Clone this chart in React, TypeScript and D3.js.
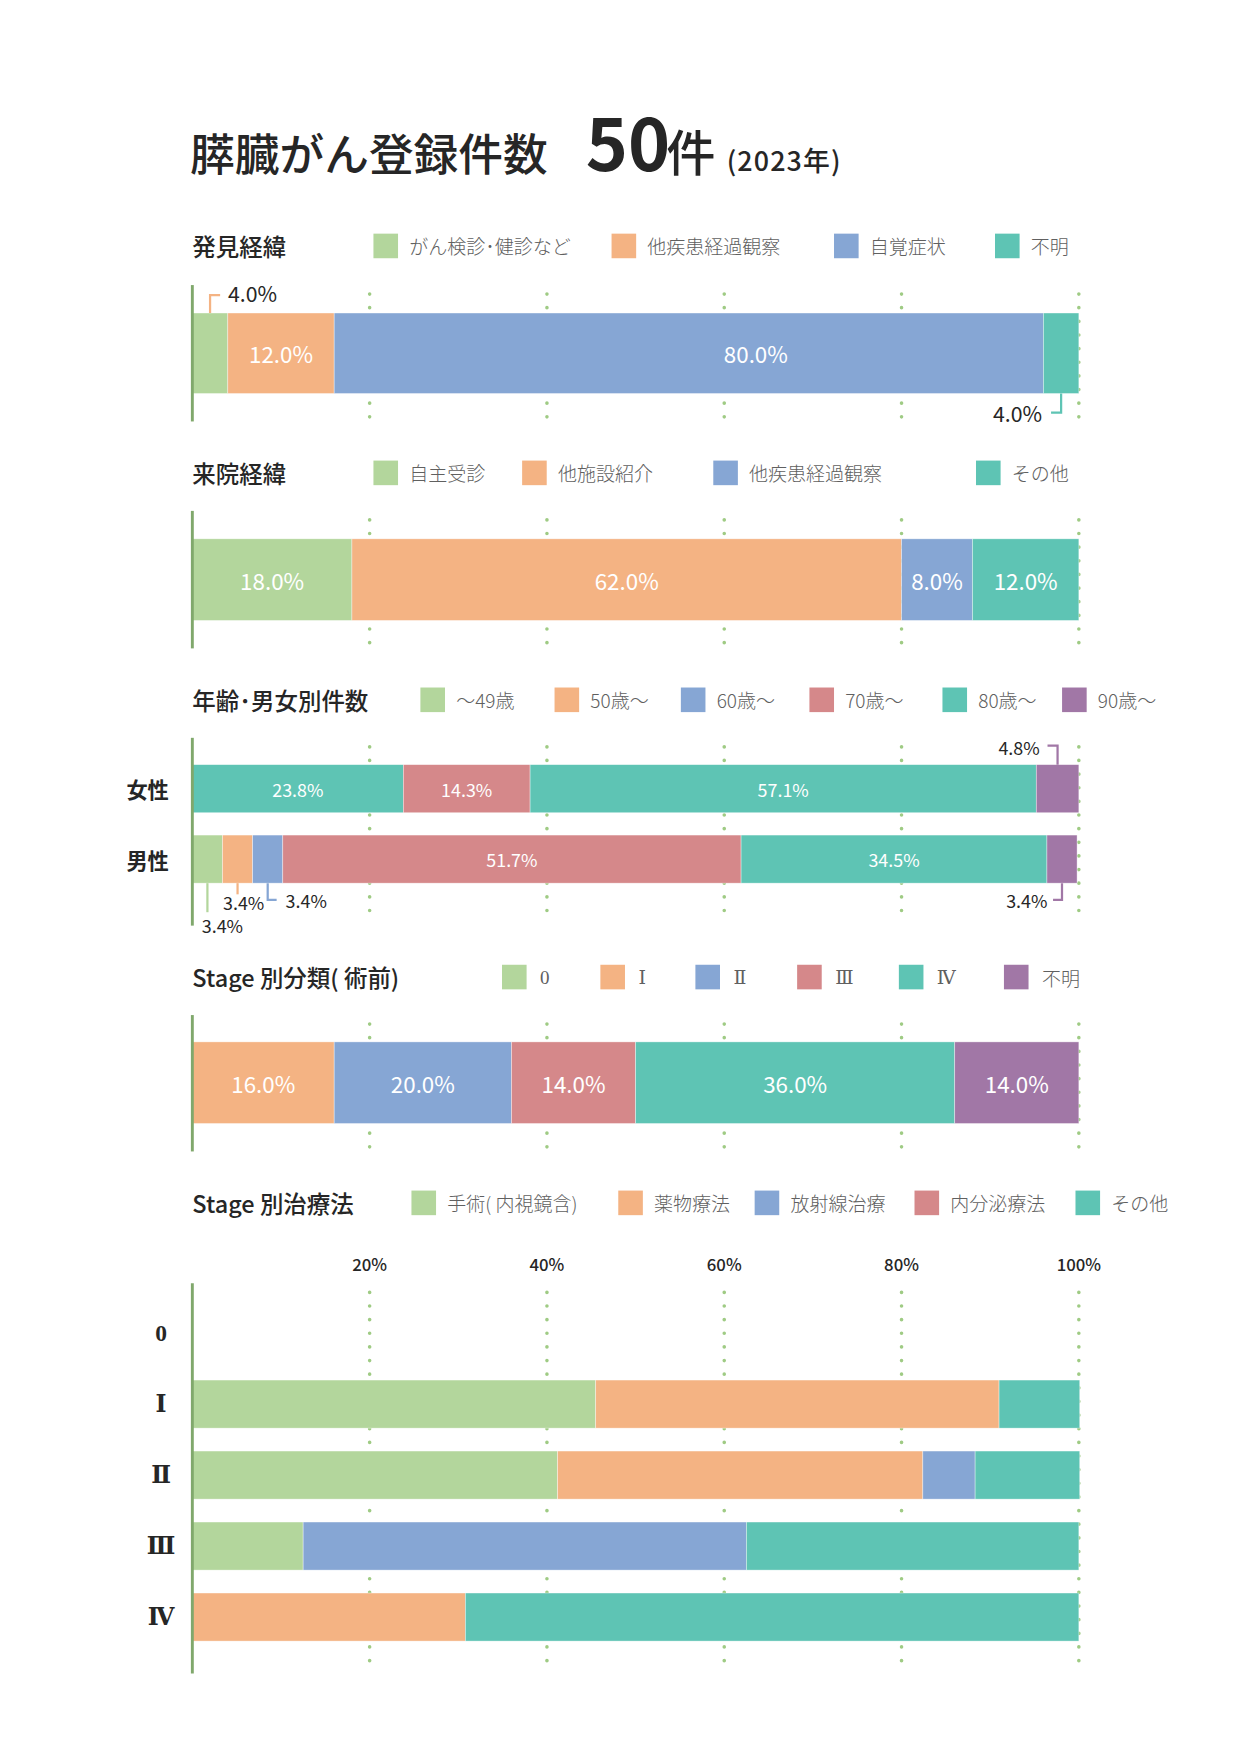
import * as d3 from 'd3'

// the reference is drawn in a 1110-wide frame and scaled up to the 1241px page
const VIEW_W = 1110
const VIEW_H = 1569
const X0 = 172
const X1 = 965

const FONT = "'Noto Sans CJK JP', 'Noto Sans', sans-serif"
const SERIF = "'Liberation Serif', 'DejaVu Serif', serif"

const PALETTE = ['#b3d69c', '#f4b383', '#86a6d4', '#d5888a', '#5ec4b4', '#a177a6']
const AXIS_COLOR = '#80a86c'
const GRID_COLOR = '#9fcb84'
const TEXT_DARK = '#262626'
const TEXT_LEGEND = '#606060'

// 発見経緯
const discoveryKeys = ['がん検診･健診など', '他疾患経過観察', '自覚症状', '不明']
const discoveryValues = [4.0, 12.0, 80.0, 4.0]

// 来院経緯
const visitKeys = ['自主受診', '他施設紹介', '他疾患経過観察', 'その他']
const visitValues = [18.0, 62.0, 8.0, 12.0]

// 年齢・男女別件数
const ageKeys = ['～49歳', '50歳～', '60歳～', '70歳～', '80歳～', '90歳～']
const sexLabels = ['女性', '男性']
const femaleValues = [0, 0, 23.8, 14.3, 57.1, 4.8]
const maleValues = [3.4, 3.4, 3.4, 51.7, 34.5, 3.4]

// Stage 別分類(術前)
const stageKeys = ['0', 'Ⅰ', 'Ⅱ', 'Ⅲ', 'Ⅳ', '不明']
const stageValues = [0, 16.0, 20.0, 14.0, 36.0, 14.0]

// Stage 別治療法
const treatmentKeys = ['手術( 内視鏡含)', '薬物療法', '放射線治療', '内分泌療法', 'その他']
const treatmentStages = ['0', 'Ⅰ', 'Ⅱ', 'Ⅲ', 'Ⅳ']
const surgeryValues = [0, 45.5, 41.2, 12.5, 0]
const drugValues = [0, 45.5, 41.2, 0, 30.8]
const radiationValues = [0, 0, 5.9, 50.0, 0]
const endocrineValues = [0, 0, 0, 0, 0]
const otherValues = [0, 9.1, 11.8, 37.5, 69.2]
const treatmentTicks = [20, 40, 60, 80, 100]

const x = d3.scaleLinear([0, 100], [X0, X1])
const pct = (v: number) => d3.format('.1f')(v) + '%'
const isRoman = (s: string) => /^[0Ⅰ-Ⅳ]$/.test(s)

interface Row {
  label?: string
  values: number[]
  colors: string[]
}
interface Note {
  row: number
  seg: number
  up: boolean
  len: number
  hook: number
  dx: number
  dy: number
  anchor: 'start' | 'end' | 'middle'
  color?: string
}
interface Panel {
  title: string
  titleY: number
  keys: string[]
  keyColors: string[]
  legendX: number[]
  legendGap: number
  axisTop: number
  axisBottom: number
  rowY: number[]
  rowH: number
  rows: Row[]
  rowLabelX?: number
  rowLabelSerif?: boolean
  labelSize: number
  labelShift?: Record<string, number>
  minInside: number
  noteSize: number
  notes: Note[]
}

const four = [PALETTE[0], PALETTE[1], PALETTE[2], PALETTE[4]]
// the reference paints the women's 60s segment in the 80s teal
const femaleColors = PALETTE.map((c, i) => (i === 2 ? PALETTE[4] : c))

const panels: Panel[] = [
  {
    title: '発見経緯',
    titleY: 220,
    keys: discoveryKeys,
    keyColors: four,
    legendX: [334, 547, 746, 890],
    legendGap: 32,
    axisTop: 255,
    axisBottom: 377,
    rowY: [280],
    rowH: 72,
    rows: [{ values: discoveryValues, colors: four }],
    labelSize: 20,
    labelShift: { '0-2': 60 },
    minInside: 8,
    noteSize: 19,
    notes: [
      { row: 0, seg: 0, up: true, len: 16, hook: 9, dx: 7, dy: -2, anchor: 'start', color: PALETTE[1] },
      { row: 0, seg: 3, up: false, len: 17, hook: -9, dx: -8, dy: 0, anchor: 'end' },
    ],
  },
  {
    title: '来院経緯',
    titleY: 423,
    keys: visitKeys,
    keyColors: four,
    legendX: [334, 467, 638, 873],
    legendGap: 32,
    axisTop: 457,
    axisBottom: 580,
    rowY: [482],
    rowH: 73,
    rows: [{ values: visitValues, colors: four }],
    labelSize: 20,
    minInside: 8,
    noteSize: 19,
    notes: [],
  },
  {
    title: '年齢･男女別件数',
    titleY: 626,
    keys: ageKeys,
    keyColors: PALETTE,
    legendX: [376, 496, 609, 724, 843, 950],
    legendGap: 32,
    axisTop: 660,
    axisBottom: 828,
    rowY: [684, 747],
    rowH: 43,
    rows: [
      { label: sexLabels[0], values: femaleValues, colors: femaleColors },
      { label: sexLabels[1], values: maleValues, colors: PALETTE },
    ],
    rowLabelX: 132,
    labelSize: 16,
    minInside: 8,
    noteSize: 16,
    notes: [
      { row: 0, seg: 5, up: true, len: 17, hook: -9, dx: -7, dy: 1, anchor: 'end' },
      { row: 1, seg: 0, up: false, len: 26, hook: 0, dx: -5, dy: 11, anchor: 'start' },
      { row: 1, seg: 1, up: false, len: 10, hook: 0, dx: -13, dy: 7, anchor: 'start' },
      { row: 1, seg: 2, up: false, len: 15, hook: 8, dx: 8, dy: 0, anchor: 'start' },
      { row: 1, seg: 5, up: false, len: 15, hook: -8, dx: -5, dy: 0, anchor: 'end' },
    ],
  },
  {
    title: 'Stage 別分類( 術前)',
    titleY: 874,
    keys: stageKeys,
    keyColors: PALETTE,
    legendX: [449, 537, 622, 713, 804, 898],
    legendGap: 34,
    axisTop: 908,
    axisBottom: 1030,
    rowY: [932],
    rowH: 73,
    rows: [{ values: stageValues, colors: PALETTE }],
    labelSize: 20,
    minInside: 8,
    noteSize: 19,
    notes: [],
  },
  {
    title: 'Stage 別治療法',
    titleY: 1076,
    keys: treatmentKeys,
    keyColors: PALETTE.slice(0, 5),
    legendX: [368, 553, 675, 818, 962],
    legendGap: 32,
    axisTop: 1148,
    axisBottom: 1497,
    rowY: treatmentStages.map((_, i) => 1171 + i * 63.5),
    rowH: 43,
    rows: treatmentStages.map((s, i) => ({
      label: s,
      values: [surgeryValues[i], drugValues[i], radiationValues[i], endocrineValues[i], otherValues[i]],
      colors: PALETTE.slice(0, 5),
    })),
    rowLabelX: 144,
    rowLabelSerif: true,
    labelSize: 0,
    minInside: 101,
    noteSize: 16,
    notes: [],
  },
]

function StackedPanel({ p }: { p: Panel }) {
  const grid = x.ticks(5).filter((t) => t > 0)
  const stacked = p.rows.map((r) => {
    const ends = Array.from(d3.cumsum(r.values))
    return r.values.map((v, i) => ({ v, i, from: ends[i] - v, to: ends[i], color: r.colors[i] }))
  })
  return (
    <g>
      <text x={X0} y={p.titleY} dominantBaseline="central" fontSize={21} fontWeight={500} fill={TEXT_DARK}>
        {p.title}
      </text>
      {p.keys.map((k, i) => (
        <g key={k} transform={`translate(${p.legendX[i]},${p.titleY})`}>
          <rect x={0} y={-11} width={22} height={22} fill={p.keyColors[i]} />
          <text
            x={p.legendGap}
            y={0}
            dominantBaseline="central"
            fontSize={17}
            fontWeight={300}
            fill={TEXT_LEGEND}
            fontFamily={isRoman(k) ? SERIF : FONT}
          >
            {k}
          </text>
        </g>
      ))}
      {grid.map((t) => (
        <line
          key={t}
          x1={x(t)}
          x2={x(t)}
          y1={p.axisTop + 8}
          y2={p.axisBottom - 4}
          stroke={GRID_COLOR}
          strokeWidth={3.2}
          strokeLinecap="round"
          strokeDasharray="0.1 12.1"
        />
      ))}
      {stacked.map((segs, ri) => (
        <g key={ri}>
          {segs
            .filter((s) => s.v > 0)
            .map((s) => (
              <rect
                key={s.i}
                x={x(s.from)}
                y={p.rowY[ri]}
                width={x(s.to) - x(s.from)}
                height={p.rowH}
                fill={s.color}
                stroke="rgba(255,255,255,0.55)"
                strokeWidth={0.6}
              />
            ))}
          {segs
            .filter((s) => s.v >= p.minInside)
            .map((s) => (
              <text
                key={'l' + s.i}
                x={(x(s.from) + x(s.to)) / 2 + (p.labelShift?.[`${ri}-${s.i}`] ?? 0)}
                y={p.rowY[ri] + p.rowH / 2}
                textAnchor="middle"
                dominantBaseline="central"
                fontSize={p.labelSize}
                fill="#fff"
              >
                {pct(s.v)}
              </text>
            ))}
          {p.rows[ri].label && (
            <text
              x={p.rowLabelX}
              y={p.rowY[ri] + p.rowH / 2}
              textAnchor="middle"
              dominantBaseline="central"
              fontSize={p.rowLabelSerif ? 21 : 19}
              fontWeight={700}
              fontFamily={p.rowLabelSerif ? SERIF : FONT}
              fill={TEXT_DARK}
            >
              {p.rows[ri].label}
            </text>
          )}
        </g>
      ))}
      {p.notes.map((n, i) => {
        const s = stacked[n.row][n.seg]
        const cx = (x(s.from) + x(s.to)) / 2
        const y0 = n.up ? p.rowY[n.row] : p.rowY[n.row] + p.rowH
        const y1 = n.up ? y0 - n.len : y0 + n.len
        const path = d3.path()
        path.moveTo(cx, y0)
        path.lineTo(cx, y1)
        if (n.hook) path.lineTo(cx + n.hook, y1)
        return (
          <g key={i}>
            <path d={path.toString()} fill="none" stroke={n.color ?? s.color} strokeWidth={2} />
            <text
              x={cx + n.hook + n.dx}
              y={y1 + n.dy}
              textAnchor={n.anchor}
              dominantBaseline="central"
              fontSize={p.noteSize}
              fill={TEXT_DARK}
            >
              {pct(s.v)}
            </text>
          </g>
        )
      })}
      <line x1={X0} x2={X0} y1={p.axisTop} y2={p.axisBottom} stroke={AXIS_COLOR} strokeWidth={2.6} />
    </g>
  )
}

export default function App() {
  return (
    <svg
      width={1241}
      height={1754}
      viewBox={`0 0 ${VIEW_W} ${VIEW_H}`}
      style={{ position: 'absolute', left: 0, top: 0, background: '#fff' }}
      fontFamily={FONT}
    >
      <text y={153} fill={TEXT_DARK} fontWeight={500}>
        <tspan x={170} fontSize={40}>膵臓がん登録件数</tspan>
        <tspan x={524} fontSize={64} fontWeight={700}>50</tspan>
        <tspan x={596} fontSize={44}>件</tspan>
        <tspan x={650} fontSize={24} letterSpacing={1}>(2023年)</tspan>
      </text>
      {panels.map((p) => (
        <StackedPanel key={p.title} p={p} />
      ))}
      {treatmentTicks.map((t) => (
        <text
          key={t}
          x={x(t)}
          y={1131}
          textAnchor="middle"
          dominantBaseline="central"
          fontSize={15}
          fontWeight={500}
          fill={TEXT_DARK}
        >
          {t}%
        </text>
      ))}
    </svg>
  )
}
